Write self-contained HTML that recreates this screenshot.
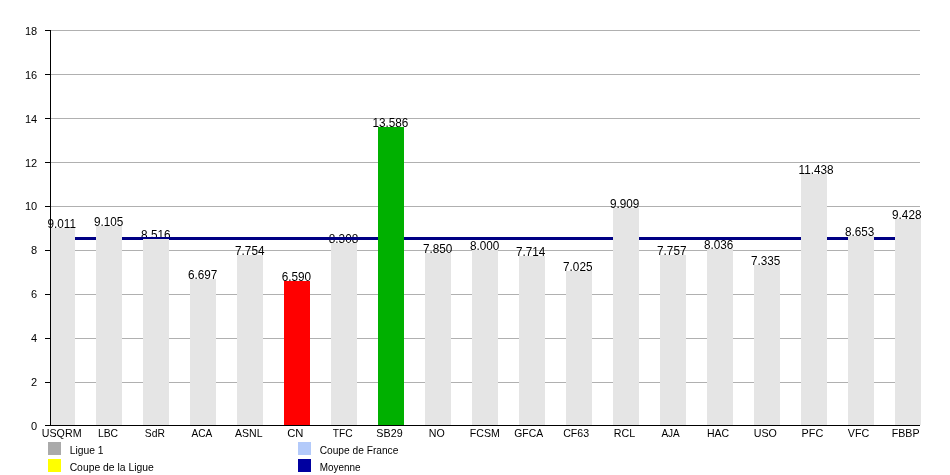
<!DOCTYPE html><html><head><meta charset="utf-8"><style>html,body{margin:0;padding:0;background:#fff;width:950px;height:475px;overflow:hidden}svg{display:block;will-change:transform}text{font-family:"Liberation Sans",sans-serif;fill:#000}</style></head><body>
<svg width="950" height="475" viewBox="0 0 950 475">
<g shape-rendering="crispEdges">
<rect x="51" y="382" width="869" height="1" fill="#b0b0b0"/>
<rect x="51" y="338" width="869" height="1" fill="#b0b0b0"/>
<rect x="51" y="294" width="869" height="1" fill="#b0b0b0"/>
<rect x="51" y="250" width="869" height="1" fill="#b0b0b0"/>
<rect x="51" y="206" width="869" height="1" fill="#b0b0b0"/>
<rect x="51" y="162" width="869" height="1" fill="#b0b0b0"/>
<rect x="51" y="118" width="869" height="1" fill="#b0b0b0"/>
<rect x="51" y="74" width="869" height="1" fill="#b0b0b0"/>
<rect x="51" y="30" width="869" height="1" fill="#b0b0b0"/>
</g>
<g font-size="11" text-anchor="end">
<text x="37.2" y="429.8">0</text>
<text x="37.2" y="385.9">2</text>
<text x="37.2" y="342.0">4</text>
<text x="37.2" y="298.1">6</text>
<text x="37.2" y="254.2">8</text>
<text x="37.2" y="210.4">10</text>
<text x="37.2" y="166.5">12</text>
<text x="37.2" y="122.6">14</text>
<text x="37.2" y="78.7">16</text>
<text x="37.2" y="34.8">18</text>
</g>
<g font-size="12" text-anchor="middle">
<text transform="translate(61.8,228) scale(0.98,1)">9.011</text>
<text transform="translate(108.7,226) scale(0.98,1)">9.105</text>
<text transform="translate(155.8,239) scale(0.98,1)">8.516</text>
<text transform="translate(202.65,279) scale(0.98,1)">6.697</text>
<text transform="translate(249.75,255) scale(0.98,1)">7.754</text>
<text transform="translate(296.4,281) scale(0.98,1)">6.590</text>
<text transform="translate(343.5,243) scale(0.98,1)">8.308</text>
<text transform="translate(390.4,127) scale(0.98,1)">13.586</text>
<text transform="translate(437.65,253) scale(0.98,1)">7.850</text>
<text transform="translate(484.65,250) scale(0.98,1)">8.000</text>
<text transform="translate(530.7,256) scale(0.98,1)">7.714</text>
<text transform="translate(577.75,271) scale(0.98,1)">7.025</text>
<text transform="translate(624.7,208) scale(0.98,1)">9.909</text>
<text transform="translate(671.75,255) scale(0.98,1)">7.757</text>
<text transform="translate(718.7,249) scale(0.98,1)">8.036</text>
<text transform="translate(765.7,265) scale(0.98,1)">7.335</text>
<text transform="translate(816.0,174) scale(0.98,1)">11.438</text>
<text transform="translate(859.7,236) scale(0.98,1)">8.653</text>
<text transform="translate(906.75,219) scale(0.98,1)">9.428</text>
</g>
<rect x="51" y="237" width="869" height="3" fill="#000084" shape-rendering="crispEdges"/>
<g shape-rendering="crispEdges">
<rect x="51" y="228" width="24" height="197" fill="#e5e5e5"/>
<rect x="96" y="226" width="26" height="199" fill="#e5e5e5"/>
<rect x="143" y="239" width="26" height="186" fill="#e5e5e5"/>
<rect x="190" y="279" width="26" height="146" fill="#e5e5e5"/>
<rect x="237" y="255" width="26" height="170" fill="#e5e5e5"/>
<rect x="284" y="281" width="26" height="144" fill="#ff0000"/>
<rect x="331" y="243" width="26" height="182" fill="#e5e5e5"/>
<rect x="378" y="127" width="26" height="298" fill="#00b000"/>
<rect x="425" y="253" width="26" height="172" fill="#e5e5e5"/>
<rect x="472" y="250" width="26" height="175" fill="#e5e5e5"/>
<rect x="519" y="256" width="26" height="169" fill="#e5e5e5"/>
<rect x="566" y="271" width="26" height="154" fill="#e5e5e5"/>
<rect x="613" y="208" width="26" height="217" fill="#e5e5e5"/>
<rect x="660" y="255" width="26" height="170" fill="#e5e5e5"/>
<rect x="707" y="249" width="26" height="176" fill="#e5e5e5"/>
<rect x="754" y="265" width="26" height="160" fill="#e5e5e5"/>
<rect x="801" y="174" width="26" height="251" fill="#e5e5e5"/>
<rect x="848" y="236" width="26" height="189" fill="#e5e5e5"/>
<rect x="895" y="219" width="26" height="206" fill="#e5e5e5"/>
</g>
<g shape-rendering="crispEdges" fill="#000">
<rect x="50" y="30" width="1" height="396"/>
<rect x="45" y="425" width="875" height="1"/>
<rect x="45" y="382" width="5" height="1"/>
<rect x="45" y="338" width="5" height="1"/>
<rect x="45" y="294" width="5" height="1"/>
<rect x="45" y="250" width="5" height="1"/>
<rect x="45" y="206" width="5" height="1"/>
<rect x="45" y="162" width="5" height="1"/>
<rect x="45" y="118" width="5" height="1"/>
<rect x="45" y="74" width="5" height="1"/>
<rect x="45" y="30" width="5" height="1"/>
</g>
<g font-size="11">
<text transform="translate(41.75,437) scale(0.9738,1)">USQRM</text>
<text transform="translate(97.93,437) scale(0.9439,1)">LBC</text>
<text transform="translate(144.79,437) scale(0.9427,1)">SdR</text>
<text transform="translate(191.39,437) scale(0.9214,1)">ACA</text>
<text transform="translate(235.08,437) scale(0.9563,1)">ASNL</text>
<text transform="translate(287.24,437) scale(1.0237,1)">CN</text>
<text transform="translate(332.78,437) scale(0.9318,1)">TFC</text>
<text transform="translate(376.35,437) scale(0.9764,1)">SB29</text>
<text transform="translate(428.73,437) scale(0.9682,1)">NO</text>
<text transform="translate(469.84,437) scale(0.9621,1)">FCSM</text>
<text transform="translate(514.23,437) scale(0.9442,1)">GFCA</text>
<text transform="translate(563.21,437) scale(0.9646,1)">CF63</text>
<text transform="translate(613.73,437) scale(0.9731,1)">RCL</text>
<text transform="translate(661.39,437) scale(0.9124,1)">AJA</text>
<text transform="translate(706.95,437) scale(0.9544,1)">HAC</text>
<text transform="translate(753.65,437) scale(0.9737,1)">USO</text>
<text transform="translate(801.61,437) scale(0.9881,1)">PFC</text>
<text transform="translate(847.84,437) scale(0.9770,1)">VFC</text>
<text transform="translate(891.73,437) scale(0.9691,1)">FBBP</text>
</g>
<g shape-rendering="crispEdges">
<rect x="48" y="442" width="13" height="13" fill="#aaaaaa"/>
<rect x="48" y="459" width="13" height="13" fill="#ffff00"/>
<rect x="298" y="442" width="13" height="13" fill="#b3cafa"/>
<rect x="298" y="459" width="13" height="13" fill="#0000a0"/>
</g>
<g font-size="11">
<text transform="translate(69.74,454) scale(0.9374,1)">Ligue 1</text>
<text transform="translate(69.63,470.5) scale(0.9432,1)">Coupe de la Ligue</text>
<text transform="translate(319.65,454) scale(0.9276,1)">Coupe de France</text>
<text transform="translate(319.80,470.5) scale(0.9016,1)">Moyenne</text>
</g>
</svg></body></html>
